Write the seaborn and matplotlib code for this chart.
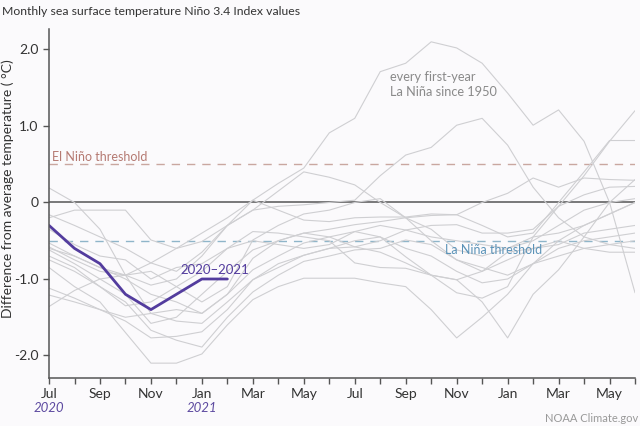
import matplotlib
matplotlib.use('Agg')
import matplotlib.pyplot as plt
import seaborn as sns
import pandas as pd

# months since July of the first La Nina year (0 = Jul, 23 = Jun two years later)
months = list(range(24))
tick_labels = ['Jul', '', 'Sep', '', 'Nov', '', 'Jan', '', 'Mar', '', 'May', '',
               'Jul', '', 'Sep', '', 'Nov', '', 'Jan', '', 'Mar', '', 'May', '']

# current event, Jul 2020 - Feb 2021
current = [-0.3, -0.6, -0.8, -1.2, -1.4, -1.2, -1.0, -1.0]

# every first-year La Nina since 1950
la_nina_01 = [-0.6, -0.7, -0.85, -0.95, -1.08, -1.0, -0.7, -0.3, 0.03, 0.25, 0.45, 0.91,
              1.1, 1.71, 1.82, 2.1, 2.02, 1.82, 1.43, 1.01, 1.21, 0.8, 0.0, -1.18]
la_nina_02 = [-0.16, -0.3, -0.45, -0.6, -0.79, -0.9, -0.65, -0.3, -0.1, -0.05, -0.03, 0.0,
              0.03, 0.35, 0.62, 0.72, 1.01, 1.1, 0.75, 0.2, -0.2, -0.45, -0.55, -0.6]
la_nina_03 = [0.19, 0.0, -0.35, -0.95, -1.45, -1.55, -1.58, -1.3, -1.01, -0.8, -0.69, -0.6,
              -0.58, -0.5, -0.36, -0.3, -0.29, -0.4, -0.4, -0.35, -0.05, 0.1, 0.2, 0.21]
la_nina_04 = [-0.2, -0.1, -0.1, -0.1, -0.49, -0.6, -0.51, -0.3, -0.1, 0.15, 0.4, 0.33,
              0.23, 0.0, -0.2, -0.35, -0.62, -0.7, -0.6, -0.45, -0.4, -0.3, -0.15, 0.0]
la_nina_05 = [-0.53, -0.7, -0.85, -1.0, -1.2, -1.3, -1.45, -1.2, -0.88, -0.7, -0.53, -0.45,
              -0.38, -0.45, -0.71, -0.95, -1.18, -1.25, -1.1, -0.45, -0.05, 0.35, 0.8, 1.2]
la_nina_06 = [-0.58, -0.75, -0.9, -0.95, -0.79, -0.6, -0.4, -0.2, 0.03, -0.1, -0.23, -0.25,
              -0.2, -0.19, -0.19, -0.15, -0.16, -0.3, -0.45, -0.4, 0.0, 0.4, 0.81, 0.81]
la_nina_07 = [-0.62, -0.8, -1.0, -1.2, -1.58, -1.5, -1.2, -0.9, -0.62, -0.5, -0.4, -0.35,
              -0.29, -0.25, -0.2, -0.17, -0.16, 0.0, 0.12, 0.32, 0.2, 0.32, 0.3, 0.29]
la_nina_08 = [-0.75, -0.9, -1.1, -1.3, -1.67, -1.8, -1.89, -1.5, -1.17, -0.95, -0.77, -0.7,
              -0.62, -0.6, -0.49, -0.55, -0.75, -0.85, -0.95, -0.8, -0.6, -0.5, -0.45, -0.4]
la_nina_09 = [-0.85, -1.1, -1.3, -1.7, -2.1, -2.1, -1.98, -1.6, -1.27, -1.1, -0.99, -0.99,
              -0.99, -1.05, -1.1, -1.4, -1.77, -1.5, -1.2, -0.8, -0.5, -0.3, -0.15, 0.0]
la_nina_10 = [-1.12, -1.25, -1.4, -1.5, -1.45, -1.4, -1.45, -1.2, -0.73, -0.5, -0.4, -0.45,
              -0.58, -0.65, -0.79, -0.95, -1.01, -1.3, -1.77, -1.2, -0.88, -0.45, 0.0, 0.3]
la_nina_11 = [-1.21, -1.3, -1.4, -1.55, -1.77, -1.75, -1.69, -1.4, -1.01, -0.85, -0.69, -0.6,
              -0.5, -0.45, -0.6, -0.7, -0.9, -1.05, -1.0, -0.8, -0.7, -0.6, -0.55, -0.5]
la_nina_12 = [-1.36, -1.15, -1.0, -0.95, -0.9, -1.1, -1.3, -1.1, -0.49, -0.3, -0.15, -0.1,
              0.0, 0.05, -0.2, -0.5, -0.75, -0.9, -0.75, -0.6, -0.5, -0.6, -0.65, -0.65]
la_nina_13 = [-0.35, -0.55, -0.7, -0.75, -1.0, -0.85, -0.8, -0.6, -0.38, -0.4, -0.45, -0.5,
              -0.79, -0.85, -0.86, -0.95, -1.01, -0.9, -0.65, -0.6, -0.55, -0.4, -0.35, -0.3]
la_nina_14 = [-0.7, -0.85, -1.1, -1.35, -1.3, -1.1, -0.9, -0.6, -0.5, -0.55, -0.6, -0.55,
              -0.38, -0.3, -0.36, -0.45, -0.5, -0.55, -0.6, -0.5, -0.3, -0.1, 0.0, 0.05]

past = [la_nina_01, la_nina_02, la_nina_03, la_nina_04, la_nina_05, la_nina_06, la_nina_07,
        la_nina_08, la_nina_09, la_nina_10, la_nina_11, la_nina_12, la_nina_13, la_nina_14]

el_nino_threshold = 0.5
la_nina_threshold = -0.5

bg = '#fbfafc'
sns.set_style('ticks', {'axes.facecolor': bg, 'figure.facecolor': bg})
plt.rcParams['font.family'] = ['Lato', 'DejaVu Sans']

frames = []
for i, vals in enumerate(past):
    frames.append(pd.DataFrame({'month': months, 'anomaly': vals, 'event': i}))
df = pd.concat(frames)

fig = plt.figure(figsize=(6.4, 4.26), dpi=100)
ax = fig.add_axes([0.0766, 0.1127, 0.9156, 0.8193])

sns.lineplot(data=df, x='month', y='anomaly', units='event', estimator=None,
             color='#cfcfd2', lw=0.8, ax=ax)

ax.axhline(0, color='#555555', lw=1.1, zorder=1)
ax.axhline(el_nino_threshold, color='#c9a7a0', lw=1.0, dashes=(6, 5), zorder=1)
ax.axhline(la_nina_threshold, color='#8fb5c9', lw=1.0, dashes=(6, 5), zorder=1)

sns.lineplot(x=months[:len(current)], y=current, color='#533c9e', lw=2.0, ax=ax)

ax.text(0.12, 0.6, 'El Niño threshold', color='#b57a72', fontsize=9, va='center')
ax.text(15.54, -0.62, 'La Niña threshold', color='#5b93b8', fontsize=9, va='center')
ax.text(6.5, -0.88, '2020–2021', color='#533c9e', fontsize=9.5, va='center', ha='center')
ax.text(13.38, 1.54, 'every first-year\nLa Niña since 1950', color='#8a8a8a',
        fontsize=9.2, va='center', linespacing=1.25)

ax.set_xlim(0, 23)
ax.set_ylim(-2.294, 2.268)
ax.set_xticks(months)
ax.set_xticklabels(tick_labels, fontsize=10, color='#333333')
ax.set_yticks([2, 1, 0, -1, -2])
ax.set_yticklabels(['2.0', '1.0', '0', '-1.0', '-2.0'], fontsize=10, color='#333333')
ax.tick_params(direction='out', length=4, width=1, color='#555555')
ax.set_xlabel('')
ax.set_ylabel('')
for side in ['left', 'bottom']:
    ax.spines[side].set_color('#555555')
    ax.spines[side].set_linewidth(1.1)
sns.despine(ax=ax)

ax.text(0, -0.086, '2020', transform=ax.get_xaxis_transform(), ha='center', va='center',
        style='italic', color='#5d4aa0', fontsize=9.5)
ax.text(6, -0.086, '2021', transform=ax.get_xaxis_transform(), ha='center', va='center',
        style='italic', color='#5d4aa0', fontsize=9.5)

fig.text(8 / 640, 1 - 189 / 426, 'Difference from average temperature ( °C)', rotation=90,
         ha='center', va='center', fontsize=10, color='#333333')
fig.text(0.003, 0.972, 'Monthly sea surface temperature Niño 3.4 Index values',
         fontsize=8.8, color='#333333', va='center')
fig.text(0.997, 0.018, 'NOAA Climate.gov', fontsize=8, color='#999999',
         ha='right', va='center')

fig.savefig('out.png', dpi=100, facecolor=bg)
